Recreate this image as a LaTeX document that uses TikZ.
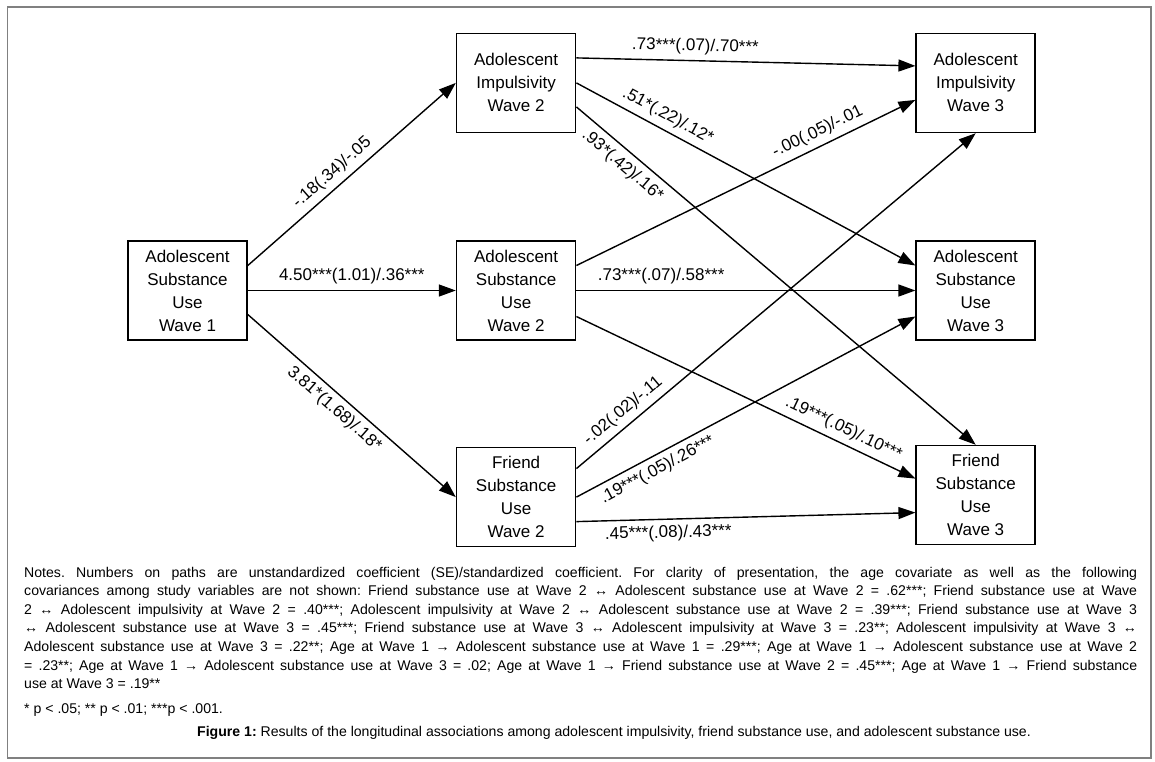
\documentclass[tikz,border=0pt]{standalone}
\usepackage{fontspec}
\setmainfont{Liberation Sans}
\usetikzlibrary{arrows.meta, positioning}
\frenchspacing

\begin{document}
\begin{tikzpicture}[
    x=1pt, y=-1pt,
    box/.style={draw, line width=1.6pt, align=center, minimum width=119pt,
        minimum height=99pt, inner sep=0pt, font=\fontsize{17}{23}\selectfont},
    arr/.style={-{Triangle[length=17pt, width=12pt]}, line width=1.4pt},
    lbl/.style={sloped, inner sep=5.5pt, font=\fontsize{17}{20}\selectfont},
    note/.style={anchor=base west, inner sep=0pt, font=\fontsize{14.1}{18.6}\selectfont}
]
\useasboundingbox (0,0) rectangle (1155,761);
\fill[white] (0,0) rectangle (1155,761);
\draw[black!50, line width=1.5pt] (7.5,7) rectangle (1151,758);

\node[box] (asu1) at (187.5,290.5) {Adolescent\\Substance\\Use\\Wave 1};
\node[box, right=208pt of asu1] (asu2) {Adolescent\\Substance\\Use\\Wave 2};
\node[box, above=107pt of asu2] (imp2) {Adolescent\\Impulsivity\\Wave 2};
\node[box, below=106pt of asu2] (fsu2) {Friend\\Substance\\Use\\Wave 2};
\node[box, right=339pt of imp2] (imp3) {Adolescent\\Impulsivity\\Wave 3};
\node[box, right=339pt of asu2] (asu3) {Adolescent\\Substance\\Use\\Wave 3};
\node[box, below=104pt of asu3] (fsu3) {Friend\\Substance\\Use\\Wave 3};

\draw[arr] ([yshift=25pt]asu1.east) -- node[lbl, above, pos=0.45] {-.18(.34)/-.05} (imp2.west);
\draw[arr] (asu1.east) -- node[lbl, above, pos=0.5] {4.50***(1.01)/.36***} (asu2.west);
\draw[arr] ([yshift=-24pt]asu1.east) -- node[lbl, below, pos=0.46] {3.81*(1.68)/.18*} (fsu2.west);
\draw[arr] ([yshift=25pt]imp2.east) -- node[lbl, above, pos=0.35] {.73***(.07)/.70***} ([yshift=17pt]imp3.west);
\draw[arr] (imp2.east) -- node[lbl, above, pos=0.25] {.51*(.22)/.12*} ([yshift=25pt]asu3.west);
\draw[arr] ([yshift=-24pt]imp2.east) -- node[lbl, below=1pt, pos=0.14] {.93*(.42)/.16*} (fsu3.north);
\draw[arr] ([yshift=25pt]asu2.east) -- node[lbl, above, pos=0.73] {-.00(.05)/-.01} ([yshift=-17pt]imp3.west);
\draw[arr] (asu2.east) -- node[lbl, above, pos=0.25] {.73***(.07)/.58***} (asu3.west);
\draw[arr] ([yshift=-26pt]asu2.east) -- node[lbl, above, pos=0.77] {.19***(.05)/.10***} ([yshift=16.5pt]fsu3.west);
\draw[arr] ([yshift=28.5pt]fsu2.east) -- node[lbl, above, pos=0.14] {-.02(.02)/-.11} (imp3.south);
\draw[arr] (fsu2.east) -- node[lbl, below, pos=0.22] {.19***(.05)/.26***} ([yshift=-26pt]asu3.west);
\draw[arr] ([yshift=-24.5pt]fsu2.east) -- node[lbl, below, pos=0.27] {.45***(.08)/.43***} ([yshift=-17.5pt]fsu3.west);

\node[note] (notes) at (24,577) {\parbox[t]{1113pt}{Notes. Numbers on paths are unstandardized coefficient (SE)/standardized coefficient. For clarity of presentation, the age covariate as well as the following\linebreak
covariances among study variables are not shown: Friend substance use at Wave 2 ↔ Adolescent substance use at Wave 2 = .62***; Friend substance use at Wave\linebreak
2 ↔ Adolescent impulsivity at Wave 2 = .40***; Adolescent impulsivity at Wave 2 ↔ Adolescent substance use at Wave 2 = .39***; Friend substance use at Wave 3\linebreak
↔ Adolescent substance use at Wave 3 = .45***; Friend substance use at Wave 3 ↔ Adolescent impulsivity at Wave 3 = .23**; Adolescent impulsivity at Wave 3 ↔\linebreak
Adolescent substance use at Wave 3 = .22**; Age at Wave 1 → Adolescent substance use at Wave 1 = .29***; Age at Wave 1 → Adolescent substance use at Wave 2\linebreak
= .23**; Age at Wave 1 → Adolescent substance use at Wave 3 = .02; Age at Wave 1 → Friend substance use at Wave 2 = .45***; Age at Wave 1 → Friend substance\linebreak
use at Wave 3 = .19**}};
\node[note] (signif) at (24,713) {* p < .05; ** p < .01; ***p < .001.};
\node[note] (caption) at (197,736) {\textbf{Figure 1:} Results of the longitudinal associations among adolescent impulsivity, friend substance use, and adolescent substance use.};
\end{tikzpicture}
\end{document}
